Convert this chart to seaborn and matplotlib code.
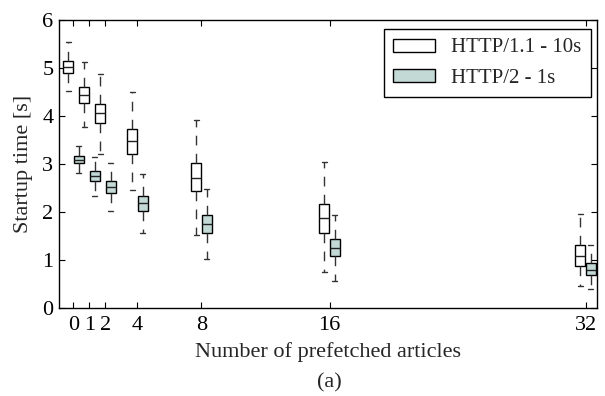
import numpy as np
import pandas as pd
import matplotlib
matplotlib.use("Agg")
import matplotlib.pyplot as plt
import seaborn as sns

articles = [0, 1, 2, 4, 8, 16, 32]
protocols = ["HTTP/1.1 - 10s", "HTTP/2 - 1s"]

# five-number summaries
h1_min = [4.52, 3.78, 3.22, 2.46, 1.53, 0.76, 0.46]
h1_q1 = [4.90, 4.28, 3.85, 3.22, 2.43, 1.57, 0.88]
h1_med = [5.02, 4.45, 4.06, 3.48, 2.72, 1.88, 1.08]
h1_q3 = [5.15, 4.61, 4.26, 3.74, 3.03, 2.17, 1.31]
h1_max = [5.55, 5.12, 4.88, 4.50, 3.91, 3.05, 1.96]

h2_min = [2.82, 2.34, 2.02, 1.56, 1.03, 0.57, 0.40]
h2_q1 = [3.02, 2.65, 2.40, 2.03, 1.57, 1.08, 0.68]
h2_med = [3.09, 2.75, 2.53, 2.19, 1.76, 1.26, 0.79]
h2_q3 = [3.17, 2.85, 2.64, 2.34, 1.93, 1.43, 0.93]
h2_max = [3.37, 3.15, 3.02, 2.80, 2.48, 1.95, 1.32]

yticks = [0, 1, 2, 3, 4, 5, 6]

rows = []
for proto, stats in zip(protocols, [(h1_min, h1_q1, h1_med, h1_q3, h1_max),
                                    (h2_min, h2_q1, h2_med, h2_q3, h2_max)]):
    for i, a in enumerate(articles):
        for s in stats:
            rows.append({"articles": a, "protocol": proto, "time": s[i]})
df = pd.DataFrame(rows)

sns.set_style("ticks", {"xtick.direction": "in", "ytick.direction": "in"})
plt.rcParams["font.family"] = ["Liberation Serif", "DejaVu Serif"]

fig = plt.figure(figsize=(6.05, 3.96), dpi=100)
ax = fig.add_axes([0.0975, 0.222, 0.889, 0.727])

sns.boxplot(data=df, x="articles", y="time", hue="protocol", native_scale=True,
            hue_order=protocols, palette=["#ffffff", "#c0dcd9"],
            width=1.3, whis=np.inf, linecolor="black", linewidth=1.0,
            gap=0.05, fill=True, ax=ax,
            whiskerprops=dict(linestyle=(0, (7, 6)), color="#333333"),
            capprops=dict(color="#333333"),
            medianprops=dict(color="#222222"))

ax.set_xlim(-0.9, 32.7)
ax.set_ylim(0, 6)
ax.set_xticks(articles)
ax.set_xticklabels([str(a) for a in articles])
ax.set_yticks(yticks)
ax.tick_params(top=True, right=True, labelsize=16, length=4, width=0.8, colors="black")
ax.tick_params(axis="x", pad=6)
ax.tick_params(axis="y", pad=4)
for sp in ax.spines.values():
    sp.set_visible(True)
    sp.set_color("black")
    sp.set_linewidth(1.0)
ax.set_xlabel("Number of prefetched articles", fontsize=16, labelpad=5)
ax.set_ylabel("Startup time [s]", fontsize=16, labelpad=7)

leg = ax.legend(loc="upper right", fontsize=15, frameon=True, fancybox=False,
                edgecolor="black", framealpha=1, handlelength=2.0, handleheight=0.6,
                borderpad=0.45, labelspacing=0.55, handletextpad=0.8,
                borderaxespad=0, bbox_to_anchor=(0.989, 0.969))
leg.get_frame().set_linewidth(1.0)

fig.text(0.545, 0.032, "(a)", ha="center", va="center", fontsize=16)

fig.savefig("out.png", dpi=100)
